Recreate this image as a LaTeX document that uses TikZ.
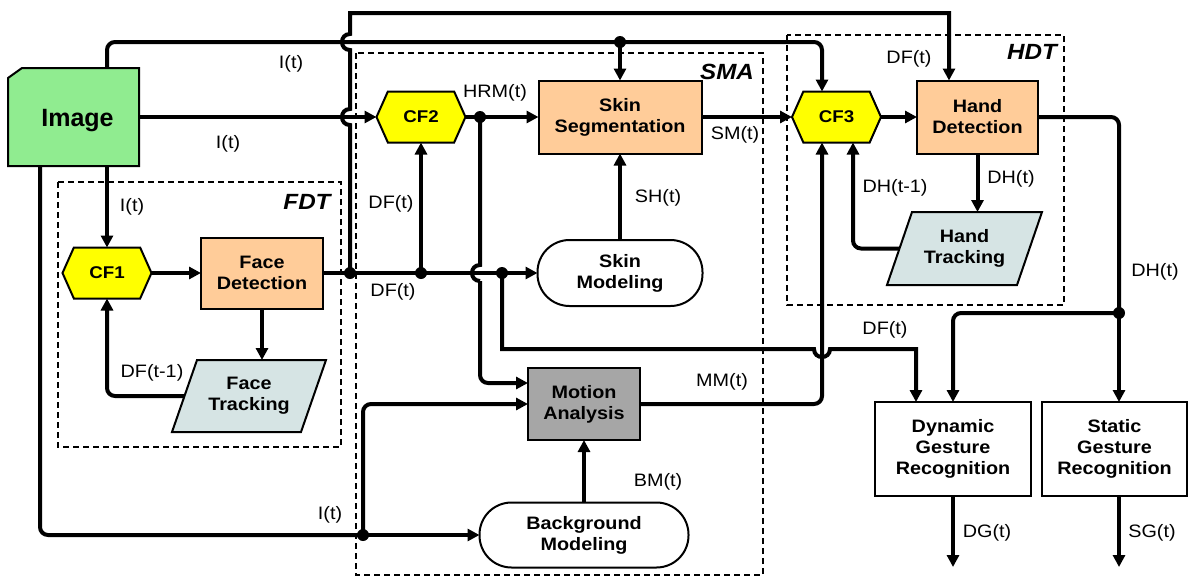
\documentclass[tikz,border=0pt]{standalone}
\usepackage{fontspec}
\setmainfont{Liberation Sans}[FakeStretch=1.1]
\newfontfamily\imgfont{Liberation Sans}
\usetikzlibrary{arrows.meta,calc,shapes.symbols}
\definecolor{imggreen}{RGB}{144,236,144}
\definecolor{peach}{RGB}{255,204,153}
\definecolor{cfyellow}{RGB}{255,255,0}
\definecolor{magray}{RGB}{166,166,166}
\definecolor{trk}{RGB}{214,228,228}
\tikzset{
  conn/.style={line width=4pt},
  flow/.style={line width=4pt,-{Triangle[length=12pt,width=12pt]}},
  grp/.style={line width=2pt,dash pattern=on 6pt off 4pt},
  grplbl/.style={font=\fontsize{22}{24}\selectfont\bfseries\itshape,inner sep=0},
  lbl/.style={font=\fontsize{18}{20}\selectfont,inner sep=0},
  boxtxt/.style={align=center,font=\fontsize{18}{21}\selectfont\bfseries,inner sep=0,outer sep=0},
  proc/.style={boxtxt,draw=black,line width=2pt,fill=peach},
  cf/.style={boxtxt,font=\fontsize{17}{19}\selectfont\bfseries,shape=signal,signal to=east and west,
    signal pointer angle=132,draw=black,line width=2pt,fill=cfyellow,minimum width=89pt,minimum height=51pt},
  model/.style={boxtxt,draw=black,line width=2pt,fill=white,rounded corners=32pt},
  rec/.style={boxtxt,draw=black,line width=2pt,fill=white},
  dot/.style={circle,fill=black,inner sep=0,minimum size=12pt}
}
\begin{document}
\begin{tikzpicture}[x=1pt,y=-1pt]
\useasboundingbox (0,0) rectangle (1188,581);
% group frames
\draw[grp] (58,182) rectangle (341,447);
\draw[grp] (356,53) rectangle (763,575);
\draw[grp] (787,35) rectangle (1064,305);
\node[grplbl] (fdtl) at (307,202) {FDT};
\node[grplbl] (smal) at (727,72) {SMA};
\node[grplbl] (hdtl) at (1032,52) {HDT};

% image
\filldraw[fill=imggreen,line width=2pt] (8,78) -- (22,68) -- (139,68) -- (139,166) -- (8,166) -- cycle;
\node[inner sep=0,outer sep=0,minimum width=131pt,minimum height=98pt] (img) at (73.5,117) {};
\node[inner sep=0] (imgtxt) at (77.5,121) {\imgfont\fontsize{25}{28}\selectfont\bfseries Image};

% nodes
\node[cf] (cf1) at (107,273) {CF1};
\node[cf] (cf2) at (421,117) {CF2};
\node[cf] (cf3) at (836.5,117) {CF3};
\node[proc,minimum width=122pt,minimum height=71pt] (fd) at (262,273) {Face\\Detection};
\node[proc,minimum width=163pt,minimum height=73pt] (ss) at (620,117) {Skin\\Segmentation};
\node[proc,minimum width=121pt,minimum height=73pt] (hd) at (977.5,117) {Hand\\Detection};
\node[model,minimum width=165pt,minimum height=66pt] (sm) at (620,273) {Skin\\Modeling};
\node[proc,fill=magray,minimum width=112pt,minimum height=72pt] (ma) at (584,404) {Motion\\Analysis};
\node[model,minimum width=209pt,minimum height=65pt] (bm) at (584,535) {Background\\Modeling};
\node[rec,minimum width=156pt,minimum height=94pt] (dgr) at (953,449) {Dynamic\\Gesture\\Recognition};
\node[rec,minimum width=145pt,minimum height=94pt] (sgr) at (1114.5,449) {Static\\Gesture\\Recognition};

% tracking parallelograms
\coordinate (ftc) at (249,396);
\filldraw[fill=trk,line width=2pt] ($(ftc)+(-52,-36)$) -- ($(ftc)+(77,-36)$) -- ($(ftc)+(52,36)$) -- ($(ftc)+(-77,36)$) -- cycle;
\node[boxtxt,minimum width=129pt,minimum height=72pt] (ft) at (ftc) {Face\\Tracking};
\coordinate (htc) at (964.5,248.5);
\filldraw[fill=trk,line width=2pt] ($(htc)+(-52.5,-36.5)$) -- ($(htc)+(77.5,-36.5)$) -- ($(htc)+(52.5,36.5)$) -- ($(htc)+(-77.5,36.5)$) -- cycle;
\node[boxtxt,minimum width=130pt,minimum height=73pt] (ht) at (htc) {Hand\\Tracking};

% helper coordinates
\coordinate (x40) at (40,0);
\coordinate (x107) at (107,0);
\coordinate (x822) at (822,0);
\coordinate (x853) at (853,0);
\coordinate (x916) at (916,0);
\coordinate (x949) at (949,0);
\coordinate (x1119) at (1119,0);
\coordinate (y383) at (0,383);
\coordinate (j1) at (620,42);
\coordinate (j2) at (350,273);
\coordinate (j3) at (421,273);
\coordinate (j4) at (502,273);
\coordinate (j5) at (363,535);
\coordinate (j6) at (480,117);
\coordinate (j7) at (1119,313);
\coordinate (o1) at (953,567);
\coordinate (o2) at (1119,567);

% I(t) top line
\draw[conn,rounded corners=8pt] (x107 |- img.north) -- (107,42) -- (j1);
\draw[flow,rounded corners=8pt] (j1) -- (822,42) -- (x822 |- cf3.north);
\draw[flow] (j1) -- (ss.north);
% image -> CF2
\draw[flow] (img.east) -- (cf2.west);
% image -> CF1
\draw[flow] (x107 |- img.south) -- (cf1.north);
% image -> background / motion
\draw[conn,rounded corners=8pt] (x40 |- img.south) -- (40,535) -- (j5);
\draw[flow] (j5) -- (bm.west);
\draw[flow,rounded corners=8pt] (j5) -- (363,404) -- (ma.west);
% face detection loop
\draw[flow] (cf1.east) -- (fd.west);
\draw[flow] (fd.south) -- (fd.south |- ft.north);
\draw[flow,rounded corners=8pt] (ft.west) -- (cf1.south |- ft.west) -- (cf1.south);
% DF(t) distribution
\draw[conn] (fd.east) -- (j2);
\draw[flow] (j2) -- (sm.west);
\draw[flow] (j3) -- (cf2.south);
\draw[flow] (j2) -- (350,125) .. controls (339.3,125) and (339.3,109) .. (350,109)
  -- (350,50) .. controls (339.3,50) and (339.3,34) .. (350,34)
  -- (350,13) -- (949,13) -- (x949 |- hd.north);
\draw[flow] (j4) -- (502,349) -- (814,349) .. controls (814,359.7) and (830,359.7) .. (830,349)
  -- (916,349) -- (x916 |- dgr.north);
% HRM(t)
\draw[flow] (cf2.east) -- (ss.west);
\draw[conn] (j6) -- (480,265) .. controls (469.3,265) and (469.3,281) .. (480,281);
\draw[flow,rounded corners=8pt] (480,281) -- (480,383) -- (ma.west |- y383);
% skin
\draw[flow] (sm.north) -- (ss.south);
\draw[flow] (ss.east) -- (cf3.west);
% motion
\draw[flow] (bm.north) -- (ma.south);
\draw[flow,rounded corners=8pt] (ma.east) -- (822,404) -- (x822 |- cf3.south);
% hand
\draw[flow] (cf3.east) -- (hd.west);
\draw[flow] (hd.south) -- (hd.south |- ht.north);
\draw[flow,rounded corners=8pt] (ht.west) -- (x853 |- ht.west) -- (x853 |- cf3.south);
\draw[conn,rounded corners=8pt] (hd.east) -- (1119,117) -- (j7);
\draw[flow] (j7) -- (x1119 |- sgr.north);
\draw[flow,rounded corners=8pt] (j7) -- (953,313) -- (dgr.north);
% outputs
\draw[flow] (dgr.south) -- (o1);
\draw[flow] (x1119 |- sgr.south) -- (o2);

% dots
\foreach \j in {j1,j2,j3,j4,j5,j6,j7} \node[dot] at (\j) {};

% labels
\node[lbl] (l1) at (291,64) {I(t)};
\node[lbl] (l2) at (228,144) {I(t)};
\node[lbl] (l3) at (132,207) {I(t)};
\node[lbl] (l4) at (152,373) {DF(t-1)};
\node[lbl] (l5) at (330,515) {I(t)};
\node[lbl] (l6) at (391,204) {DF(t)};
\node[lbl] (l7) at (393,292) {DF(t)};
\node[lbl] (l8) at (495,93) {HRM(t)};
\node[lbl] (l9) at (735,135) {SM(t)};
\node[lbl] (l10) at (658,198) {SH(t)};
\node[lbl] (l11) at (722,382) {MM(t)};
\node[lbl] (l12) at (658,482) {BM(t)};
\node[lbl] (l13) at (909,59) {DF(t)};
\node[lbl] (l14) at (895,188) {DH(t-1)};
\node[lbl] (l15) at (1011,179) {DH(t)};
\node[lbl] (l16) at (1155,272) {DH(t)};
\node[lbl] (l17) at (885,330) {DF(t)};
\node[lbl] (l18) at (987,533) {DG(t)};
\node[lbl] (l19) at (1152,533) {SG(t)};
\end{tikzpicture}
\end{document}
